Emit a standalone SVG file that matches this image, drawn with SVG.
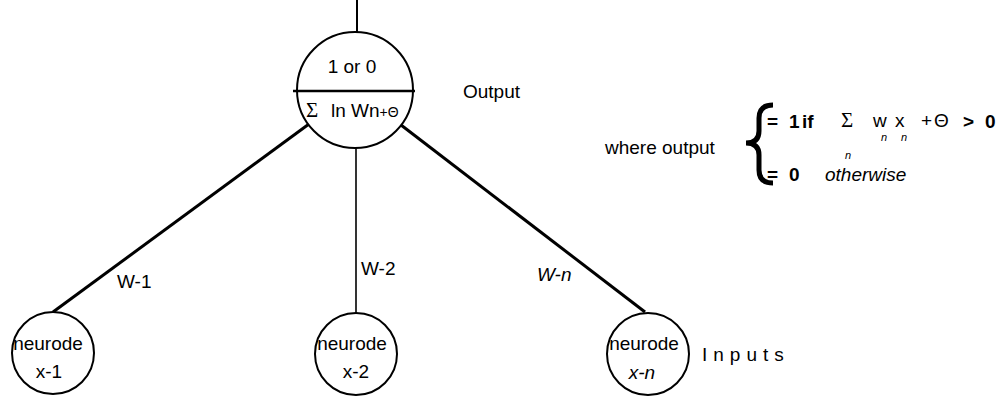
<svg xmlns="http://www.w3.org/2000/svg" width="1005" height="397" viewBox="0 0 1005 397">
<style>
.c{fill:#fff;stroke:#000;stroke-width:2}
.t{font-family:"Liberation Sans",Arial,sans-serif;font-size:19px;fill:#000}
.s{font-family:"Liberation Serif","Times New Roman",serif;font-size:21px;fill:#000}
.i{font-style:italic}
.b{font-weight:bold}
.sub{font-family:"Liberation Sans",Arial,sans-serif;font-size:11px;font-style:italic;fill:#000}
.e{stroke:#000;fill:none}
</style>
<rect width="1005" height="397" fill="#fff"/>
<g id="connectors">
<line class="e" x1="357" y1="0" x2="357" y2="32" stroke-width="2"/>
<line class="e" x1="309" y1="124" x2="53" y2="312" stroke-width="3"/>
<line class="e" x1="356" y1="148" x2="356" y2="313" stroke-width="1.6"/>
<line class="e" x1="401" y1="125" x2="645" y2="312" stroke-width="3"/>
<text class="t" x="117" y="288">W-1</text>
<text class="t" x="361" y="275">W-2</text>
<text class="t i" x="537" y="281">W-n</text>
</g>
<g id="output-node">
<circle class="c" cx="355" cy="90" r="58"/>
<line class="e" x1="293" y1="91" x2="415" y2="91" stroke-width="2.5"/>
<text class="t" x="352" y="73" text-anchor="middle">1 or 0</text>
<text class="s" x="306" y="117">Σ</text>
<text class="t" x="331" y="117">ln Wn<tspan font-size="14">+Θ</tspan></text>
</g>
<text class="t" x="463" y="98">Output</text>
<g id="input-1">
<circle class="c" cx="53" cy="353" r="41"/>
<text class="t" x="48" y="350" text-anchor="middle">neurode</text>
<text class="t" x="49" y="378" text-anchor="middle">x-1</text>
</g>
<g id="input-2">
<circle class="c" cx="356" cy="354" r="41"/>
<text class="t" x="352" y="350" text-anchor="middle">neurode</text>
<text class="t" x="356" y="378" text-anchor="middle">x-2</text>
</g>
<g id="input-n">
<circle class="c" cx="648" cy="354" r="41"/>
<text class="t" x="644" y="350" text-anchor="middle">neurode</text>
<text class="t i" x="642" y="379" text-anchor="middle">x-n</text>
</g>
<text class="t" x="702" y="361" font-size="17" letter-spacing="6">Inputs</text>
<g id="formula">
<text class="t" x="605" y="154">where output</text>
<path d="M773,105 Q759,105 759,118 L759,131 Q759,143 746,143 Q759,143 759,155 L759,170 Q759,183 773,183" fill="none" stroke="#000" stroke-width="5"/>
<text class="t b" x="767" y="128">=</text>
<text class="t b" x="789" y="128">1</text>
<text class="t b" x="802" y="128">if</text>
<text class="s" x="841" y="127">Σ</text>
<text class="sub" x="845" y="159">n</text>
<text class="t" x="873" y="127">w</text>
<text class="sub" x="881" y="141">n</text>
<text class="t" x="895" y="127">x</text>
<text class="sub" x="901" y="141">n</text>
<text class="t" x="921" y="127" font-size="13">+</text>
<text class="t" x="934" y="127" font-size="14">Θ</text>
<text class="t b" x="963" y="128">&gt;</text>
<text class="t b" x="985" y="128">0</text>
<text class="t b" x="767" y="181">=</text>
<text class="t b" x="789" y="181">0</text>
<text class="t i" x="825" y="181">otherwise</text>
</g>
</svg>
